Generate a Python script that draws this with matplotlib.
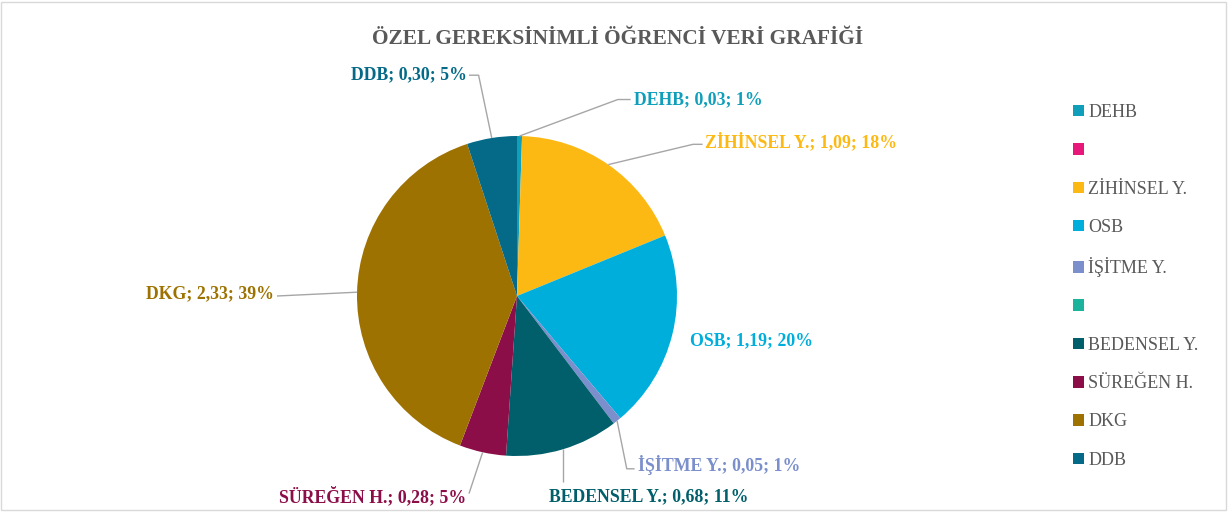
import matplotlib
matplotlib.use("Agg")
import matplotlib.pyplot as plt
from matplotlib.patches import Rectangle, Patch
import numpy as np

# ---- data ----
categories = ["DEHB", " ", "ZİHİNSEL Y.", "OSB", "İŞİTME Y.", " ", "BEDENSEL Y.", "SÜREĞEN H.", "DKG", "DDB"]
values = [0.03, 0.0, 1.09, 1.19, 0.05, 0.0, 0.68, 0.28, 2.33, 0.30]
colors = ["#0F9FBA", "#E8187A", "#FDB913", "#00AEDC", "#7A8FCB", "#1BB39B",
          "#005F6B", "#8C0E48", "#9E7200", "#046A88"]
title = "ÖZEL GEREKSİNİMLİ ÖĞRENCİ VERİ GRAFİĞİ"

# ---- layout (label text anchor, leader elbow points) in pie data units ----
label_layout = {
    0: dict(text=(0.734, 1.228), ha="left", elbow=[(0.63, 1.228), (0.71, 1.228)]),
    2: dict(text=(1.177, 0.963), ha="left", elbow=[(1.10, 0.948), (1.16, 0.948)]),
    3: dict(text=(1.082, -0.278), ha="left", elbow=None),
    4: dict(text=(0.759, -1.058), ha="left", elbow=[(0.686, -1.080), (0.735, -1.080)]),
    6: dict(text=(0.203, -1.255), ha="left", elbow=[(None, -1.165)]),
    7: dict(text=(-0.316, -1.255), ha="right", elbow=[(-0.30, -1.235)]),
    8: dict(text=(-1.519, 0.012), ha="right", elbow=[(-1.50, 0.0)]),
    9: dict(text=(-0.316, 1.380), ha="right", elbow=[(-0.24, 1.380), (-0.30, 1.380)]),
}

W, H = 1229, 513
fig = plt.figure(figsize=(W / 100, H / 100), dpi=100)
fig.patch.set_facecolor("white")

# border
fig.add_artist(Rectangle((1 / W, 3 / H), (W - 4) / W, (H - 5) / H, transform=fig.transFigure,
                         fill=False, edgecolor="#D9D9D9", linewidth=1.0))

cx, cy, r = 517, 296, 158
half = 200
ax = fig.add_axes([(cx - half) / W, (H - cy - half) / H, 2 * half / W, 2 * half / H])
ax.set_xlim(-half / r, half / r)
ax.set_ylim(-half / r, half / r)
ax.set_aspect("equal")
ax.axis("off")

wedges, _ = ax.pie(values, colors=colors, startangle=90, counterclock=False, radius=1.0,
                   wedgeprops=dict(linewidth=0))

total = sum(values)
serif = ["Liberation Serif", "DejaVu Serif"]
lead_col = "#A6A6A6"
for i, w in enumerate(wedges):
    if i not in label_layout:
        continue
    lay = label_layout[i]
    pct = int(values[i] / total * 100 + 0.5)
    val = f"{values[i]:.2f}".replace(".", ",")
    txt = f"{categories[i]}; {val}; {pct}%"
    tx, ty = lay["text"]
    ax.text(tx, ty, txt, ha=lay["ha"], va="center", color=colors[i], fontsize=12.8,
            fontweight="bold", family=serif, clip_on=False)
    if lay["elbow"]:
        theta = np.deg2rad((w.theta1 + w.theta2) / 2)
        ax0, ay0 = np.cos(theta), np.sin(theta)
        pts = [(ax0, ay0)]
        for (ex, ey) in lay["elbow"]:
            pts.append((ax0 if ex is None else ex, ey))
        xs, ys = zip(*pts)
        ax.plot(xs, ys, color=lead_col, lw=1.0, clip_on=False, solid_capstyle="butt")

fig.text(0.5 * (370 + 866) / W, 1 - 39 / H, title, ha="center", va="center",
         fontsize=15.4, fontweight="bold", color="#595959", family=serif)

# legend
handles = [Patch(facecolor=c, edgecolor="none") for c in colors]
fig.legend(handles, categories, loc="upper left", bbox_to_anchor=(1073 / W, 1 - 104 / H),
           frameon=False, prop=dict(family=serif, size=13), labelcolor="#595959",
           handlelength=0.6, handleheight=0.6, handletextpad=0.25, labelspacing=1.18,
           borderaxespad=0, borderpad=0)

fig.savefig("out.png", dpi=100)
